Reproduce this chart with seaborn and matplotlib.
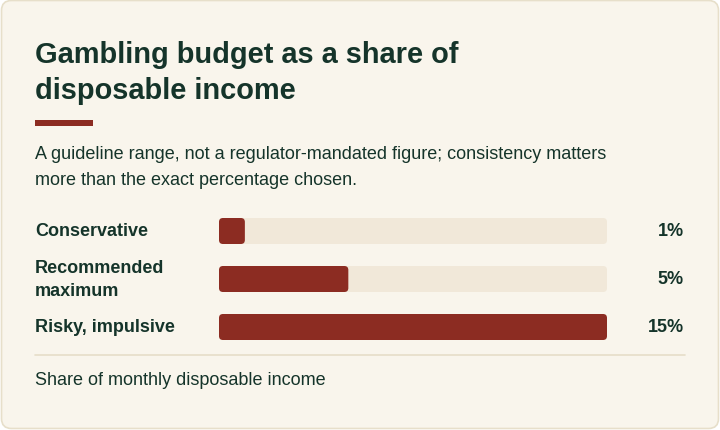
import matplotlib
matplotlib.use("Agg")
import matplotlib.pyplot as plt
import matplotlib.transforms as mtransforms
from matplotlib.patches import FancyBboxPatch
import seaborn as sns
import pandas as pd

# data
categories = ["Conservative", "Recommended\nmaximum", "Risky, impulsive"]
shares = [1, 5, 15]
value_labels = ["1%", "5%", "15%"]
scale_max = 15

title_lines = ["Gambling budget as a share of", "disposable income"]
subtitle_lines = ["A guideline range, not a regulator-mandated figure; consistency matters",
                  "more than the exact percentage chosen."]
footnote = "Share of monthly disposable income"

# colours
BG = "#f9f5ec"
BORDER = "#e7dfca"
TRACK = "#f1e8d9"
RED = "#8c2c22"
INK = "#15342a"
RULE = "#e6ddc8"

W, H = 720, 431
sns.set_theme(style="white")
plt.rcParams["font.family"] = ["Liberation Sans", "DejaVu Sans"]

fig = plt.figure(figsize=(W / 100, H / 100), dpi=100)
fig.patch.set_facecolor("white")

# background axes in pixel coords
bg = fig.add_axes([0, 0, 1, 1])
bg.set_xlim(0, W)
bg.set_ylim(H, 0)
bg.axis("off")

card = FancyBboxPatch((1.5, 1.5), W - 3, H - 3,
                      boxstyle="round,pad=0,rounding_size=10",
                      facecolor=BG, edgecolor=BORDER, linewidth=1.2)
bg.add_patch(card)

px_pt = 0.72  # px -> pt at 100 dpi
title_px, body_px = 29, 18
bg.text(35, 63, title_lines[0], fontsize=title_px * px_pt, fontweight="bold", color=INK, va="baseline")
bg.text(35, 99, title_lines[1], fontsize=title_px * px_pt, fontweight="bold", color=INK, va="baseline")
bg.add_patch(plt.Rectangle((35, 121), 58, 5.5, facecolor=RED, edgecolor="none"))
bg.text(35, 159.5, subtitle_lines[0], fontsize=body_px * px_pt, color=INK, va="baseline")
bg.text(35, 185.5, subtitle_lines[1], fontsize=body_px * px_pt, color=INK, va="baseline")
bg.plot([35, 685], [355.5, 355.5], color=RULE, linewidth=1.2)
bg.text(35, 385, footnote, fontsize=body_px * px_pt, color=INK, va="baseline")

# bar axes: x 219..607 px, rows spaced 48 px centred at 232
left, right = 219, 607
top, bottom = 232 - 24, 328 + 24
ax = fig.add_axes([left / W, 1 - bottom / H, (right - left) / W, (bottom - top) / H])
ax.set_facecolor("none")

df = pd.DataFrame({"category": categories, "share": shares,
                   "track": [scale_max] * len(categories)})
bar_h = 26 / 48
sns.barplot(data=df, x="track", y="category", color=TRACK, width=bar_h,
            saturation=1, ax=ax, zorder=1)
sns.barplot(data=df, x="share", y="category", color=RED, width=bar_h,
            saturation=1, ax=ax, zorder=2)

ax.set_xlim(0, scale_max)
ax.set_ylim(len(categories) - 0.5, -0.5)

# swap rectangles for rounded ones
x_per_px = scale_max / (right - left)
y_per_px = 1 / 48
radius = 4 * x_per_px
for p in list(ax.patches):
    x0, y0 = p.get_x(), p.get_y()
    w, h = p.get_width(), p.get_height()
    fc = p.get_facecolor()
    z = p.get_zorder()
    p.remove()
    ax.add_patch(FancyBboxPatch((x0, y0), w, h,
                                boxstyle=f"round,pad=0,rounding_size={radius}",
                                mutation_aspect=y_per_px / x_per_px,
                                facecolor=fc, edgecolor="none", zorder=z))

for s in ax.spines.values():
    s.set_visible(False)
ax.set_xticks([])
ax.set_xlabel("")
ax.set_ylabel("")
ax.tick_params(axis="y", length=0, pad=(left - 35) * px_pt)
for lbl in ax.get_yticklabels():
    lbl.set_horizontalalignment("left")
    lbl.set_verticalalignment("center")
    lbl.set_fontweight("bold")
    lbl.set_fontsize(body_px * px_pt)
    lbl.set_color(INK)
    lbl.set_linespacing(1.4)

trans = mtransforms.blended_transform_factory(ax.transAxes, ax.transData)
value_x = (684 - left) / (right - left)
for i, lab in enumerate(value_labels):
    ax.text(value_x, i, lab, transform=trans, ha="right", va="center",
            fontsize=body_px * px_pt, fontweight="bold", color=INK)

fig.savefig("out.png", dpi=100, facecolor=fig.get_facecolor())
